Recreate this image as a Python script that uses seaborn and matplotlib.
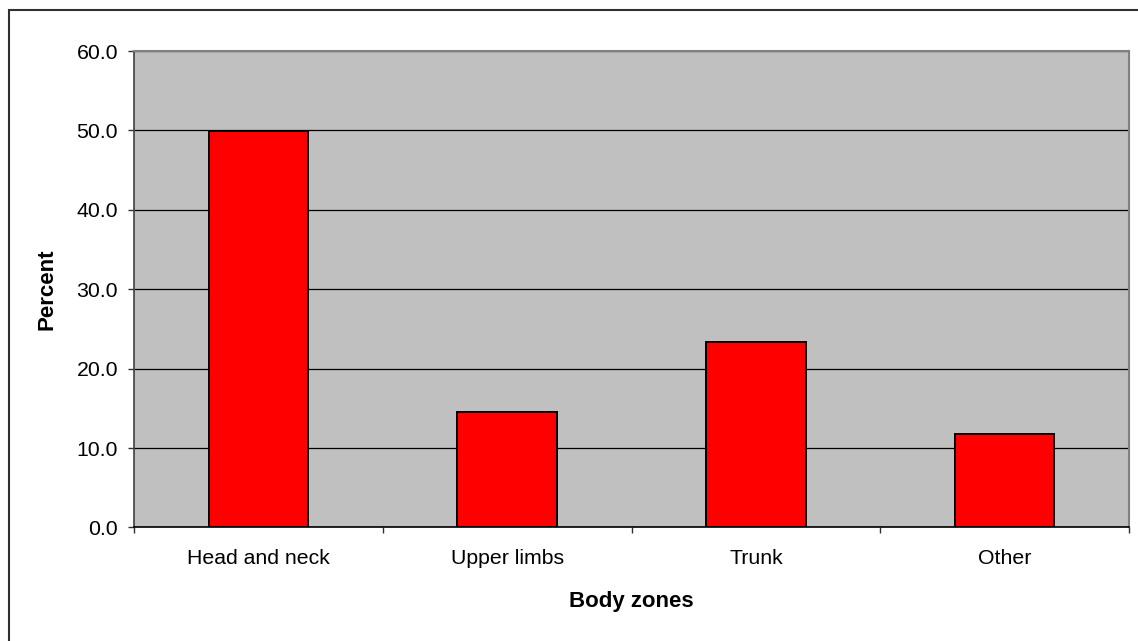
import numpy as np
import pandas as pd
import matplotlib
matplotlib.use("Agg")
import matplotlib.pyplot as plt
from matplotlib.patches import Rectangle
from matplotlib.ticker import FixedLocator, FormatStrFormatter
import seaborn as sns

# data
zones = ["Head and neck", "Upper limbs", "Trunk", "Other"]
percent = [49.9, 14.6, 23.4, 11.8]
y_ticks = [0, 10, 20, 30, 40, 50, 60]

sns.set_style("white")
plt.rcParams["font.family"] = ["Liberation Sans", "DejaVu Sans"]
plt.rcParams.update({"text.color": "black", "axes.labelcolor": "black",
                     "xtick.color": "black", "ytick.color": "black"})

df = pd.DataFrame({"zone": zones, "percent": percent})

fig = plt.figure(figsize=(11.38, 6.41), dpi=100)
ax = fig.add_axes([0.1178, 0.1771, 0.8743, 0.7433])

sns.barplot(data=df, x="zone", y="percent", color="#FF0000", saturation=1,
            edgecolor="black", linewidth=1.4, width=0.4, ax=ax, zorder=3)

ax.set_facecolor("#C0C0C0")
ax.set_xlim(-0.5, len(zones) - 0.5)
ax.set_ylim(0, 60)
ax.set_yticks(y_ticks)
ax.yaxis.set_major_formatter(FormatStrFormatter("%.1f"))
ax.yaxis.grid(True, color="black", linewidth=0.9, zorder=1)
ax.set_axisbelow(True)

# category labels centred, tick marks between categories
ax.tick_params(axis="x", which="major", length=0, pad=15.5, labelsize=15.3,
               labelcolor="black")
ax.xaxis.set_minor_locator(FixedLocator(np.arange(-0.5, len(zones), 1.0)))
ax.tick_params(axis="x", which="minor", length=4.5, width=1,
               direction="out", color="#303030", bottom=True)
ax.tick_params(axis="y", length=4.5, width=1, direction="out", pad=7,
               labelsize=15.3, color="#303030", labelcolor="black", left=True)

ax.set_xlabel("Body zones", fontsize=16, fontweight="bold")
ax.set_ylabel("Percent", fontsize=16, fontweight="bold")
ax.xaxis.set_label_coords(0.5, -0.133)
ax.yaxis.set_label_coords(-0.0774, 0.5)

for side in ["top", "right"]:
    ax.spines[side].set_visible(True)
    ax.spines[side].set_color("#808080")
    ax.spines[side].set_linewidth(1.5)
ax.spines["left"].set_color("#404040")
ax.spines["left"].set_linewidth(1.2)
ax.spines["bottom"].set_color("black")
ax.spines["bottom"].set_linewidth(1.2)

# outer chart frame
fig.add_artist(Rectangle((0.0075, -0.02), 1.1, 0.9844 + 0.02,
                         transform=fig.transFigure, fill=False,
                         edgecolor="#303030", linewidth=1.5))

fig.savefig("out.png", dpi=100)
plt.close(fig)
